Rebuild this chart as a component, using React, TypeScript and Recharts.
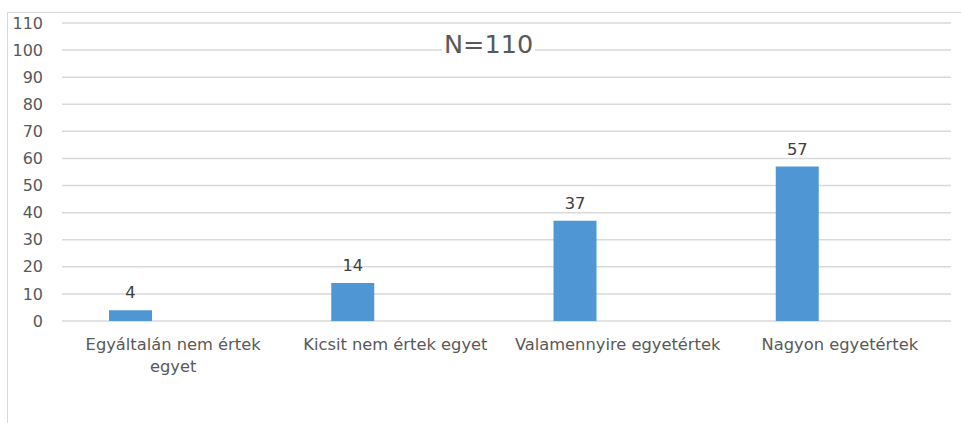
import { BarChart, Bar, XAxis, YAxis, CartesianGrid, LabelList } from "recharts";

const categories = ["Egyáltalán nem értek\negyet", "Kicsit nem értek egyet", "Valamennyire egyetértek", "Nagyon egyetértek"];
const values = [4, 14, 37, 57];
// the source chart had two more (empty) series, which is why the bars sit left of the label
const series2: (number | null)[] = [null, null, null, null];
const series3: (number | null)[] = [null, null, null, null];
const yTicks = [0, 10, 20, 30, 40, 50, 60, 70, 80, 90, 100, 110];
const title = "N=110";

const data = categories.map((name, i) => ({ name, value: values[i], s2: series2[i], s3: series3[i] }));

const FONT = "'DejaVu Sans', sans-serif";

function CategoryTick(props: any) {
    const { x, y, payload } = props;
    const lines = String(payload.value).split("\n");
    return (
        <text x={x} y={y} textAnchor="middle" fill="#595959" fontSize={16.3} fontFamily={FONT}>
            {lines.map((l, i) => (
                <tspan key={i} x={x} dy={i === 0 ? 29 : 22}>{l}</tspan>
            ))}
        </text>
    );
}

export default function App() {
    return (
        <div style={{ position: "absolute", left: 0, top: 0, width: 961, height: 423, overflow: "hidden", background: "#fff" }}>
            {/* chart area frame, only left/top edges are visible */}
            <div style={{ position: "absolute", left: 7, top: 12, width: 960, height: 420, borderLeft: "1px solid #d9d9d9", borderTop: "1px solid #d9d9d9" }} />
            <div style={{ position: "absolute", left: 0, top: 0 }}>
                <BarChart
                    width={961}
                    height={423}
                    data={data}
                    margin={{ top: 23, right: 10, bottom: 42, left: 0 }}
                    barCategoryGap={47}
                    barGap={0}
                >
                    <CartesianGrid vertical={false} stroke="#d9d9d9" strokeWidth={1.5} />
                    <XAxis
                        dataKey="name"
                        axisLine={false}
                        tickLine={false}
                        tickSize={0}
                        tickMargin={0}
                        height={60}
                        interval={0}
                        tick={<CategoryTick />}
                    />
                    <YAxis
                        width={62}
                        domain={[0, 110]}
                        ticks={yTicks}
                        axisLine={false}
                        tickLine={false}
                        tickSize={0}
                        tickMargin={19}
                        tick={{ fill: "#595959", fontSize: 16, fontFamily: FONT }}
                    />
                    <Bar dataKey="value" fill="#4f96d4" isAnimationActive={false}>
                        <LabelList dataKey="value" position="top" offset={12} fill="#404040" fontSize={16.3} fontFamily={FONT} />
                    </Bar>
                    <Bar dataKey="s2" fill="#ed7d31" isAnimationActive={false} />
                    <Bar dataKey="s3" fill="#a5a5a5" isAnimationActive={false} />
                </BarChart>
            </div>
            <div style={{ position: "absolute", left: 442, top: 32, padding: "0 2px", background: "#fff", color: "#595959", fontFamily: FONT, fontSize: 25.5, lineHeight: "25px" }}>
                {title}
            </div>
        </div>
    );
}
